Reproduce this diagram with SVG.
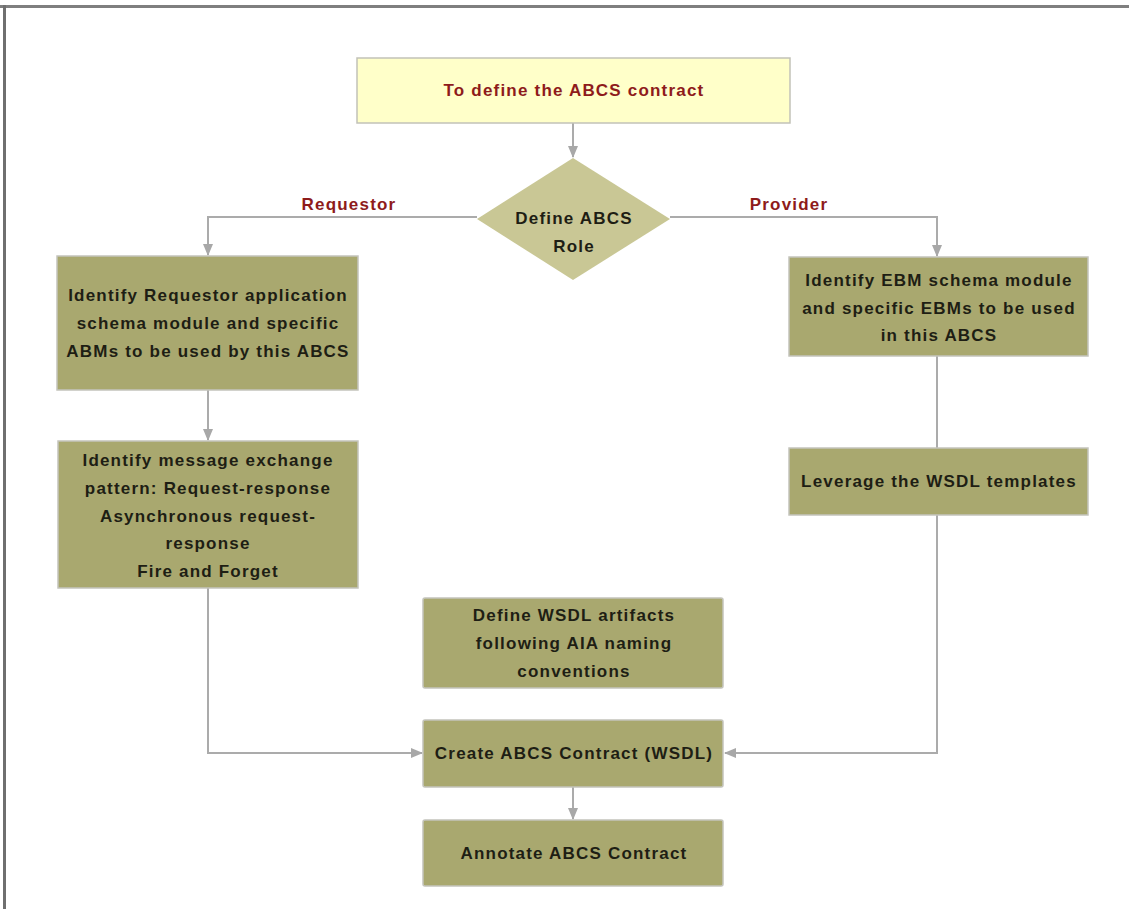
<svg xmlns="http://www.w3.org/2000/svg" width="1129" height="909" viewBox="0 0 1129 909">
<defs>
<style>
.box{fill:#A9A86F;stroke:#C4C4BC;stroke-width:1.5}
.t{font-family:"Liberation Sans",Arial,sans-serif;font-size:17px;font-weight:bold;letter-spacing:1.2px;fill:#1E1E14;text-anchor:middle;dominant-baseline:central}
.r{font-family:"Liberation Sans",Arial,sans-serif;font-size:17px;font-weight:bold;letter-spacing:1.2px;fill:#8E1B1B;text-anchor:middle;dominant-baseline:central}
.ln{fill:none;stroke:#ABABAB;stroke-width:2}
</style>
<marker id="ah" markerWidth="12" markerHeight="12" refX="11" refY="6" orient="auto" markerUnits="userSpaceOnUse">
<path d="M0,1 L12,6 L0,11 z" fill="#A8A8A8"/>
</marker>
</defs>
<rect x="0" y="0" width="1129" height="909" fill="#FFFFFF"/>
<rect x="0" y="5" width="1129" height="3" fill="#7F7F7F"/>
<rect x="3" y="5" width="3" height="904" fill="#6F6F6F"/>

<g id="connectors">
<path class="ln" d="M573,123 V157" marker-end="url(#ah)"/>
<path class="ln" d="M477,217 H208 V255" marker-end="url(#ah)"/>
<path class="ln" d="M670,217 H937 V256" marker-end="url(#ah)"/>
<path class="ln" d="M208,390 V440" marker-end="url(#ah)"/>
<path class="ln" d="M937,356 V448"/>
<path class="ln" d="M208,588 V753 H422" marker-end="url(#ah)"/>
<path class="ln" d="M937,515 V753 H725" marker-end="url(#ah)"/>
<path class="ln" d="M573,787 V819" marker-end="url(#ah)"/>
<text class="r" x="349" y="204">Requestor</text>
<text class="r" x="789" y="204">Provider</text>
</g>

<g id="start">
<rect x="357" y="58" width="433" height="65" fill="#FFFFC9" stroke="#C2C2B8" stroke-width="1.5"/>
<text class="r" x="574" y="90">To define the ABCS contract</text>
</g>

<g id="role">
<polygon points="573,158 670,219 573,280 477,219" fill="#C9C795"/>
<text class="t" x="574" y="218">Define ABCS</text>
<text class="t" x="574" y="246">Role</text>
</g>

<g id="req1">
<rect class="box" x="57" y="256" width="301" height="134"/>
<text class="t" x="208" y="295">Identify Requestor application</text>
<text class="t" x="208" y="323">schema module and specific</text>
<text class="t" x="208" y="351">ABMs to be used by this ABCS</text>
</g>

<g id="req2">
<rect class="box" x="58" y="441" width="300" height="147"/>
<text class="t" x="208" y="460">Identify message exchange</text>
<text class="t" x="208" y="488">pattern: Request-response</text>
<text class="t" x="208" y="516">Asynchronous request-</text>
<text class="t" x="208" y="543">response</text>
<text class="t" x="208" y="571">Fire and Forget</text>
</g>

<g id="prov1">
<rect class="box" x="789" y="257" width="299" height="99"/>
<text class="t" x="939" y="280">Identify EBM schema module</text>
<text class="t" x="939" y="308">and specific EBMs to be used</text>
<text class="t" x="939" y="335">in this ABCS</text>
</g>

<g id="prov2">
<rect class="box" x="789" y="448" width="299" height="67"/>
<text class="t" x="939" y="481">Leverage the WSDL templates</text>
</g>

<g id="wsdl">
<rect class="box" x="423" y="598" width="300" height="90" rx="2"/>
<text class="t" x="574" y="615">Define WSDL artifacts</text>
<text class="t" x="574" y="643">following AIA naming</text>
<text class="t" x="574" y="671">conventions</text>
</g>

<g id="create">
<rect class="box" x="423" y="720" width="300" height="67" rx="2"/>
<text class="t" x="574" y="753">Create ABCS Contract (WSDL)</text>
</g>

<g id="annotate">
<rect class="box" x="423" y="820" width="300" height="66" rx="2"/>
<text class="t" x="574" y="853">Annotate ABCS Contract</text>
</g>
</svg>
